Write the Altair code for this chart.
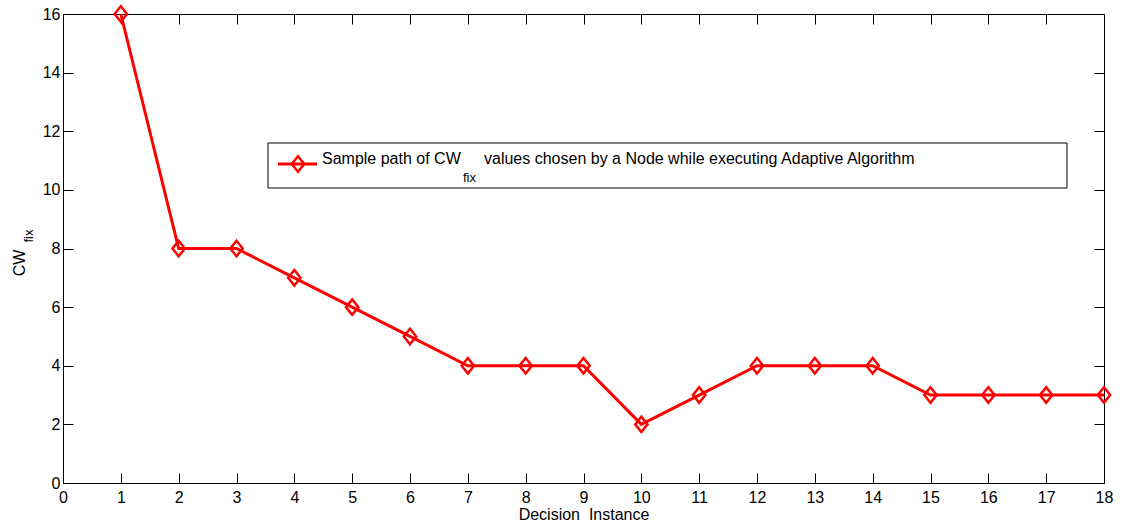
import altair as alt
import pandas as pd

# Sample path of the fixed contention window chosen at each decision instance
decision_instance = list(range(1, 19))
cw_fix = [16, 8, 8, 7, 6, 5, 4, 4, 4, 2, 3, 4, 4, 4, 3, 3, 3, 3]

x_ticks = list(range(0, 19))
y_ticks = list(range(0, 17, 2))

legend_text = "Sample path of CW"
legend_sub = "fix"
legend_rest = "values chosen by a Node while executing Adaptive Algorithm"
y_title = "CW"
y_title_sub = "fix"
x_title = "Decision\u00a0 Instance"

df = pd.DataFrame({"instance": decision_instance, "cw": cw_fix})
one = pd.DataFrame({"k": [0]})

RED = "#ff0000"
FONT = "Liberation Sans"
DIAMOND = "M0,-1L0.8,0L0,1L-0.8,0Z"

x_scale = alt.Scale(domain=[0, 18], nice=False, zero=False)
y_scale = alt.Scale(domain=[0, 16], nice=False)

# ticks pointing into the plot: shift each axis inward by its tick length
inner = dict(offset=-10, tickSize=10, domain=False, grid=False,
             tickColor="black", tickWidth=1, title=None, labelFlush=False)

base = alt.Chart(df)

line = base.mark_line(color=RED, strokeWidth=3).encode(
    x=alt.X("instance:Q", scale=x_scale,
            axis=alt.Axis(orient="bottom", values=x_ticks, labelPadding=6,
                          format="d", **inner)),
    y=alt.Y("cw:Q", scale=y_scale,
            axis=alt.Axis(orient="left", values=y_ticks, labelPadding=3,
                          format="d", **inner)),
)

points = base.mark_point(shape=DIAMOND, size=240, filled=False, color=RED,
                         strokeWidth=2.5, opacity=1).encode(
    x=alt.X("instance:Q", scale=x_scale,
            axis=alt.Axis(orient="top", values=x_ticks, labels=False, **inner)),
    y=alt.Y("cw:Q", scale=y_scale,
            axis=alt.Axis(orient="right", values=y_ticks, labels=False, **inner)),
)

# legend box
legend_box = alt.Chart(one).mark_rect(fill="white", stroke="black", strokeWidth=1).encode(
    x=alt.value(205), x2=alt.value(1004), y=alt.value(129), y2=alt.value(174)
)
legend_line = alt.Chart(one).mark_rule(color=RED, strokeWidth=3).encode(
    x=alt.value(215), x2=alt.value(254), y=alt.value(150)
)
legend_marker = alt.Chart(one).mark_point(shape=DIAMOND, size=240, filled=False,
                                          color=RED, strokeWidth=2.5, opacity=1).encode(
    x=alt.value(235), y=alt.value(150)
)

text_style = dict(font=FONT, color="black", baseline="alphabetic", align="left")
t1 = alt.Chart(one).mark_text(text=legend_text, fontSize=16, **text_style).encode(
    x=alt.value(259), y=alt.value(150))
t2 = alt.Chart(one).mark_text(text=legend_sub, fontSize=13, **text_style).encode(
    x=alt.value(400), y=alt.value(168))
t3 = alt.Chart(one).mark_text(text=legend_rest, fontSize=16, **text_style).encode(
    x=alt.value(421), y=alt.value(150))

# axis titles
yt1 = alt.Chart(one).mark_text(text=y_title, fontSize=16, angle=270, font=FONT,
                               color="black", baseline="alphabetic", align="center").encode(
    x=alt.value(-38), y=alt.value(249))
yt2 = alt.Chart(one).mark_text(text=y_title_sub, fontSize=13, angle=270, font=FONT,
                               color="black", baseline="alphabetic", align="center").encode(
    x=alt.value(-30), y=alt.value(222))
xt = alt.Chart(one).mark_text(text=x_title, fontSize=16, font=FONT, color="black",
                              baseline="alphabetic", align="center").encode(
    x=alt.value(521), y=alt.value(506))

chart = alt.layer(
    line, points, legend_box, legend_line, legend_marker, t1, t2, t3, yt1, yt2, xt
).resolve_axis(
    x="independent", y="independent"
).properties(
    width=1041, height=469,
    autosize=alt.AutoSizeParams(type="none"),
    padding={"left": 63, "top": 14, "right": 21, "bottom": 44},
    background="white",
).configure_view(
    stroke="black", strokeWidth=1
).configure_axis(
    labelFont=FONT, labelFontSize=16, labelColor="black"
)

chart.save("out.html", embed_options={"renderer": "svg", "actions": False})
